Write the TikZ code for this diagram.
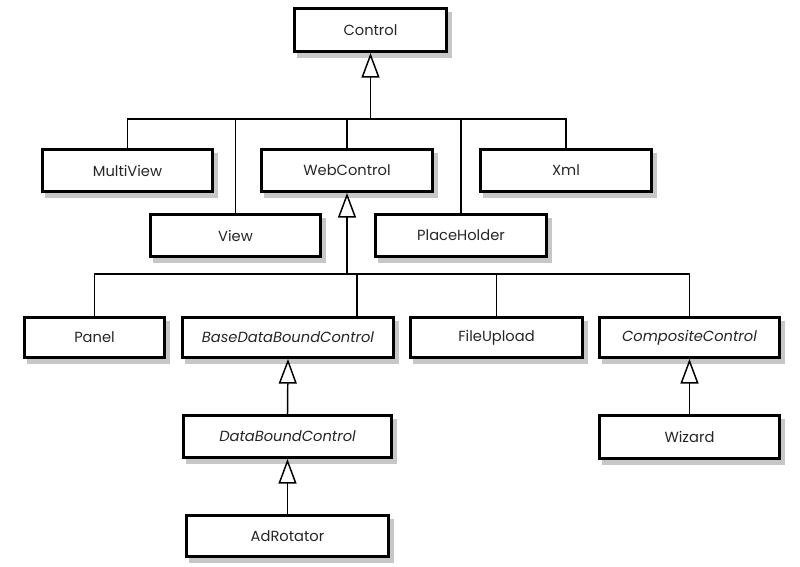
\documentclass[tikz,border=0pt]{standalone}
\usepackage{fontspec}
\setmainfont{Poppins}
\usetikzlibrary{arrows.meta}
\tikzset{
  cls/.style={draw=black, line width=2.2pt, fill=white, inner sep=0pt,
    font=\fontsize{11}{13}\selectfont, text=black!85,
    preaction={draw=black!22, fill=black!22, line width=2.2pt,
      transform canvas={shift={(3pt,-3.5pt)}}}},
  conn/.style={line width=1.1pt, draw=black},
  inh/.style={conn, -{Triangle[open, width=13.5pt, length=18.5pt, line width=1.1pt]}}
}
\newcommand{\cbox}[6]{\node[cls, minimum width=#4*0.75pt, minimum height=#5*0.75pt] (#1) at (#2,#3) {#6};}
\begin{document}
\begin{tikzpicture}[x=0.75pt,y=-0.75pt]
\useasboundingbox[fill=white] (0,0) rectangle (800,567);
\cbox{ctrl}{370.5}{30}{152}{43}{Control}
\cbox{mv}{127.5}{170.5}{170}{42}{MultiView}
\cbox{wc}{347}{170.5}{171}{42}{WebControl}
\cbox{xml}{566}{170.5}{171}{42}{Xml}
\cbox{view}{235.5}{235.5}{170}{42}{View}
\cbox{ph}{461}{235.5}{171}{42}{PlaceHolder}
\cbox{panel}{94.5}{337.5}{140}{40}{Panel}
\cbox{bdb}{288}{337.5}{211}{40}{\itshape BaseDataBoundControl}
\cbox{fu}{496.5}{337.5}{172}{40}{FileUpload}
\cbox{comp}{689.5}{337.5}{180}{40}{\itshape CompositeControl}
\cbox{db}{287.5}{436.5}{208}{42}{\itshape DataBoundControl}
\cbox{wiz}{689.5}{437}{180}{43}{Wizard}
\cbox{ad}{287.5}{536}{202}{41}{AdRotator}
% level 1 bus
\coordinate (bus1) at (370.5,119);
\draw[inh] (bus1) -- (ctrl.south);
\draw[conn] (mv.north) |- (xml.north |- bus1) -- (xml.north);
\draw[conn] (view.north) -- (view.north |- bus1);
\draw[conn] (wc.north) -- (wc.north |- bus1);
\draw[conn] (ph.north) -- (ph.north |- bus1);
% level 2 bus
\coordinate (bus2) at (347,274);
\draw[inh] (bus2) -- (wc.south);
\draw[conn] (panel.north) |- (comp.north |- bus2) -- (comp.north);
\draw[conn] (fu.north) -- (fu.north |- bus2);
\coordinate (bdbt) at (357,274);
\draw[conn] (bdbt) -- (bdbt |- bdb.north);
% lower inheritance
\draw[inh] (db.north) -- (bdb.south);
\draw[inh] (ad.north) -- (db.south);
\draw[inh] (wiz.north) -- (comp.south);
\end{tikzpicture}
\end{document}
